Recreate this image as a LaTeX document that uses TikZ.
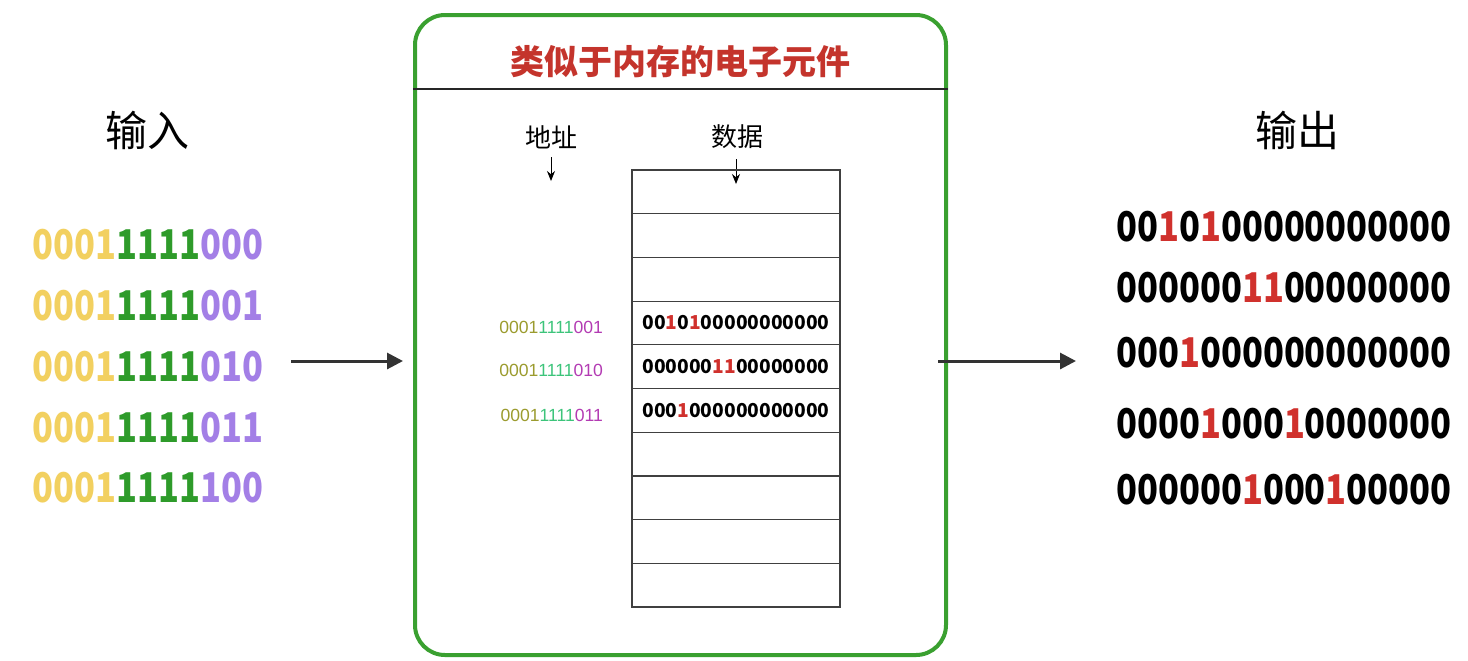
\documentclass[tikz,border=0pt]{standalone}
\usepackage{fontspec}
\usepackage{xcolor}
\usetikzlibrary{arrows.meta,positioning}

\setmainfont{Noto Sans CJK SC}
\newfontfamily\numfont{Noto Sans CJK SC}[FakeStretch=0.84]
\newfontfamily\addrfont{Liberation Sans}

\definecolor{boxgreen}{RGB}{58,160,48}
\definecolor{titlered}{RGB}{196,52,44}
\definecolor{bitred}{RGB}{208,49,45}
\definecolor{arrowgray}{RGB}{51,51,51}
\definecolor{inyellow}{RGB}{242,208,96}
\definecolor{ingreen}{RGB}{46,155,42}
\definecolor{inpurple}{RGB}{163,127,230}
\definecolor{adolive}{RGB}{155,155,46}
\definecolor{adgreen}{RGB}{60,196,122}
\definecolor{admagenta}{RGB}{179,59,179}

% colored pieces of the bit strings
\newcommand{\rb}[1]{\textcolor{bitred}{#1}}
\newcommand{\inaddr}[1]{\textcolor{inyellow}{0001}\textcolor{ingreen}{1111}\textcolor{inpurple}{#1}}
\newcommand{\celladdr}[1]{\textcolor{adolive}{0001}\textcolor{adgreen}{1111}\textcolor{admagenta}{#1}}

\tikzset{
  bits/.style={font=\numfont\bfseries\fontsize{20.5}{22}\selectfont, inner sep=0pt},
  sidelabel/.style={font=\fontsize{21}{24}\selectfont, inner sep=0pt},
  headlabel/.style={font=\fontsize{13}{15}\selectfont, inner sep=0pt},
  addr/.style={font=\addrfont\fontsize{8.8}{10}\selectfont, inner sep=0pt},
  celltext/.style={font=\bfseries\fontsize{9.6}{11}\selectfont, inner sep=0pt},
  cell/.style={draw=black!75, line width=0.6pt, minimum width=104pt, minimum height=21.85pt, inner sep=0pt},
  chipbox/.style={draw=boxgreen, line width=2pt, rounded corners=15pt, minimum width=265.5pt, minimum height=320pt},
  flow/.style={draw=arrowgray, line width=1.5pt, -{Triangle[length=8pt,width=8pt]}},
  pointer/.style={draw=black, line width=0.5pt, -{Stealth[length=5pt,width=4pt]}}
}

\begin{document}
\begin{tikzpicture}[x=0.5pt, y=-0.5pt]
  \useasboundingbox (0,0) rectangle (1468,660);

  % input side
  \node[sidelabel] (inlbl) at (147,130) {输入};
  \node[bits] (in1) at (148,245) {\inaddr{000}};
  \node[bits] (in2) at (148,306) {\inaddr{001}};
  \node[bits] (in3) at (148,367) {\inaddr{010}};
  \node[bits] (in4) at (148,428) {\inaddr{011}};
  \node[bits] (in5) at (148,488) {\inaddr{100}};

  % the memory-like part
  \node[chipbox] (chip) at (680.5,335) {};
  \node[font=\bfseries\fontsize{17}{19}\selectfont, text=titlered, inner sep=0pt] (title) at (680,62) {类似于内存的电子元件};
  \coordinate (sep) at (680,89);
  \draw[black!85, line width=1.2pt] (chip.west |- sep) -- (chip.east |- sep);

  \node[headlabel] (addrhead) at (551,137) {地址};
  \node[headlabel] (datahead) at (737,137) {数据};
  \coordinate (addrtip) at (551,181);
  \coordinate (datatip) at (736,184);
  \draw[pointer, shorten <=4pt] (addrhead) -- (addrtip);
  \draw[pointer, shorten <=5pt] (datahead.south -| datatip) -- (datatip);

  \foreach \i in {1,...,10}
    \node[cell] (cell\i) at (736, 148.15+43.7*\i) {};

  \node[celltext] (d4) at (cell4) {00\rb{1}0\rb{1}00000000000};
  \node[celltext] (d5) at (cell5) {000000\rb{11}00000000};
  \node[celltext] (d6) at (cell6) {000\rb{1}000000000000};
  \node[addr, left=14pt of cell4.west, yshift=-2pt] (a4) {\celladdr{001}};
  \node[addr, left=14pt of cell5.west, yshift=-2pt] (a5) {\celladdr{010}};
  \node[addr, left=14pt of cell6.west, yshift=-2.5pt] (a6) {\celladdr{011}};

  \coordinate (inarrow) at (291,361);
  \coordinate (outarrow) at (1076,361);
  \draw[flow, shorten >=5pt] (inarrow) -- (chip.west |- inarrow);
  \draw[flow] ([xshift=-5pt]chip.east |- outarrow) -- (outarrow);

  % output side
  \node[sidelabel] (outlbl) at (1297,130) {输出};
  \node[bits] (out1) at (1284,227) {00\rb{1}0\rb{1}00000000000};
  \node[bits] (out2) at (1284,288) {000000\rb{11}00000000};
  \node[bits] (out3) at (1284,353) {000\rb{1}000000000000};
  \node[bits] (out4) at (1284,424) {0000\rb{1}000\rb{1}0000000};
  \node[bits] (out5) at (1284,490) {000000\rb{1}000\rb{1}00000};
\end{tikzpicture}
\end{document}
